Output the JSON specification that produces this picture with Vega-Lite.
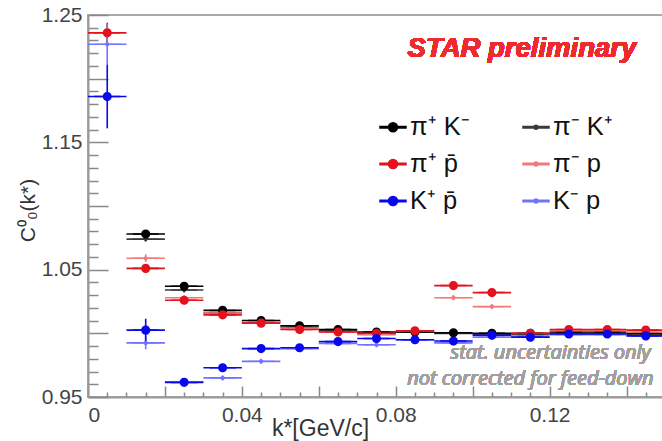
{
  "$schema": "https://vega.github.io/schema/vega-lite/v6.json",
  "width": 577,
  "height": 382,
  "autosize": {"type": "none"},
  "padding": {"left": 88, "top": 15, "right": 0, "bottom": 44},
  "background": "white",
  "config": {
    "view": {"stroke": "#aaaaaa", "strokeWidth": 2},
    "axis": {
      "grid": false,
      "domainColor": "#999999",
      "domainWidth": 2,
      "tickColor": "#888888",
      "tickWidth": 1.5,
      "labelColor": "#444444",
      "labelFont": "Liberation Sans",
      "labelFontSize": 21,
      "titleFont": "Liberation Sans",
      "titleFontWeight": "normal",
      "titleColor": "#333333",
      "titleFontSize": 23
    }
  },
  "data": {
    "values": [
      {"s": "π⁻ K⁺", "k": 0.015, "kLo": 0.01, "kHi": 0.02, "c": 1.074, "cLo": 1.072, "cHi": 1.076},
      {"s": "π⁻ K⁺", "k": 0.025, "kLo": 0.02, "kHi": 0.03, "c": 1.034, "cLo": 1.032, "cHi": 1.036},
      {"s": "π⁻ K⁺", "k": 0.035, "kLo": 0.03, "kHi": 0.04, "c": 1.016, "cLo": 1.014, "cHi": 1.018},
      {"s": "π⁻ K⁺", "k": 0.045, "kLo": 0.04, "kHi": 0.05, "c": 1.009, "cLo": 1.007, "cHi": 1.011},
      {"s": "π⁻ K⁺", "k": 0.055, "kLo": 0.05, "kHi": 0.06, "c": 1.005, "cLo": 1.003, "cHi": 1.007},
      {"s": "π⁻ K⁺", "k": 0.065, "kLo": 0.06, "kHi": 0.07, "c": 1.002, "cLo": 1.000, "cHi": 1.004},
      {"s": "π⁻ K⁺", "k": 0.075, "kLo": 0.07, "kHi": 0.08, "c": 1.000, "cLo": 0.998, "cHi": 1.002},
      {"s": "π⁻ K⁺", "k": 0.085, "kLo": 0.08, "kHi": 0.09, "c": 1.001, "cLo": 0.999, "cHi": 1.003},
      {"s": "π⁻ K⁺", "k": 0.095, "kLo": 0.09, "kHi": 0.10, "c": 1.000, "cLo": 0.998, "cHi": 1.002},
      {"s": "π⁻ K⁺", "k": 0.105, "kLo": 0.10, "kHi": 0.11, "c": 0.999, "cLo": 0.997, "cHi": 1.001},
      {"s": "π⁻ K⁺", "k": 0.115, "kLo": 0.11, "kHi": 0.12, "c": 0.999, "cLo": 0.997, "cHi": 1.001},
      {"s": "π⁻ K⁺", "k": 0.125, "kLo": 0.12, "kHi": 0.13, "c": 1.000, "cLo": 0.998, "cHi": 1.002},
      {"s": "π⁻ K⁺", "k": 0.135, "kLo": 0.13, "kHi": 0.14, "c": 1.000, "cLo": 0.998, "cHi": 1.002},
      {"s": "π⁻ K⁺", "k": 0.145, "kLo": 0.14, "kHi": 0.15, "c": 0.999, "cLo": 0.997, "cHi": 1.001},

      {"s": "π⁺ K⁻", "k": 0.015, "kLo": 0.01, "kHi": 0.02, "c": 1.078, "cLo": 1.075, "cHi": 1.081},
      {"s": "π⁺ K⁻", "k": 0.025, "kLo": 0.02, "kHi": 0.03, "c": 1.037, "cLo": 1.035, "cHi": 1.039},
      {"s": "π⁺ K⁻", "k": 0.035, "kLo": 0.03, "kHi": 0.04, "c": 1.018, "cLo": 1.016, "cHi": 1.020},
      {"s": "π⁺ K⁻", "k": 0.045, "kLo": 0.04, "kHi": 0.05, "c": 1.010, "cLo": 1.008, "cHi": 1.012},
      {"s": "π⁺ K⁻", "k": 0.055, "kLo": 0.05, "kHi": 0.06, "c": 1.006, "cLo": 1.004, "cHi": 1.008},
      {"s": "π⁺ K⁻", "k": 0.065, "kLo": 0.06, "kHi": 0.07, "c": 1.003, "cLo": 1.001, "cHi": 1.005},
      {"s": "π⁺ K⁻", "k": 0.075, "kLo": 0.07, "kHi": 0.08, "c": 1.001, "cLo": 0.999, "cHi": 1.003},
      {"s": "π⁺ K⁻", "k": 0.085, "kLo": 0.08, "kHi": 0.09, "c": 1.001, "cLo": 0.999, "cHi": 1.003},
      {"s": "π⁺ K⁻", "k": 0.095, "kLo": 0.09, "kHi": 0.10, "c": 1.0004, "cLo": 0.9984, "cHi": 1.0024},
      {"s": "π⁺ K⁻", "k": 0.105, "kLo": 0.10, "kHi": 0.11, "c": 1.000, "cLo": 0.998, "cHi": 1.002},
      {"s": "π⁺ K⁻", "k": 0.115, "kLo": 0.11, "kHi": 0.12, "c": 1.000, "cLo": 0.998, "cHi": 1.002},
      {"s": "π⁺ K⁻", "k": 0.125, "kLo": 0.12, "kHi": 0.13, "c": 1.001, "cLo": 0.999, "cHi": 1.003},
      {"s": "π⁺ K⁻", "k": 0.135, "kLo": 0.13, "kHi": 0.14, "c": 1.001, "cLo": 0.999, "cHi": 1.003},
      {"s": "π⁺ K⁻", "k": 0.145, "kLo": 0.14, "kHi": 0.15, "c": 1.000, "cLo": 0.998, "cHi": 1.002},

      {"s": "π⁻ p", "k": 0.015, "kLo": 0.01, "kHi": 0.02, "c": 1.059, "cLo": 1.056, "cHi": 1.062},
      {"s": "π⁻ p", "k": 0.025, "kLo": 0.02, "kHi": 0.03, "c": 1.028, "cLo": 1.026, "cHi": 1.030},
      {"s": "π⁻ p", "k": 0.035, "kLo": 0.03, "kHi": 0.04, "c": 1.016, "cLo": 1.014, "cHi": 1.018},
      {"s": "π⁻ p", "k": 0.045, "kLo": 0.04, "kHi": 0.05, "c": 1.009, "cLo": 1.007, "cHi": 1.011},
      {"s": "π⁻ p", "k": 0.055, "kLo": 0.05, "kHi": 0.06, "c": 1.004, "cLo": 1.002, "cHi": 1.006},
      {"s": "π⁻ p", "k": 0.065, "kLo": 0.06, "kHi": 0.07, "c": 1.001, "cLo": 0.999, "cHi": 1.003},
      {"s": "π⁻ p", "k": 0.075, "kLo": 0.07, "kHi": 0.08, "c": 0.999, "cLo": 0.997, "cHi": 1.001},
      {"s": "π⁻ p", "k": 0.085, "kLo": 0.08, "kHi": 0.09, "c": 1.002, "cLo": 1.000, "cHi": 1.004},
      {"s": "π⁻ p", "k": 0.095, "kLo": 0.09, "kHi": 0.10, "c": 1.028, "cLo": 1.026, "cHi": 1.030},
      {"s": "π⁻ p", "k": 0.105, "kLo": 0.10, "kHi": 0.11, "c": 1.021, "cLo": 1.019, "cHi": 1.023},
      {"s": "π⁻ p", "k": 0.115, "kLo": 0.11, "kHi": 0.12, "c": 1.000, "cLo": 0.998, "cHi": 1.002},
      {"s": "π⁻ p", "k": 0.125, "kLo": 0.12, "kHi": 0.13, "c": 1.002, "cLo": 1.000, "cHi": 1.004},
      {"s": "π⁻ p", "k": 0.135, "kLo": 0.13, "kHi": 0.14, "c": 1.002, "cLo": 1.000, "cHi": 1.004},
      {"s": "π⁻ p", "k": 0.145, "kLo": 0.14, "kHi": 0.15, "c": 1.001, "cLo": 0.999, "cHi": 1.003},

      {"s": "π⁺ p̄", "k": 0.005, "kLo": 0.00, "kHi": 0.01, "c": 1.236, "cLo": 1.228, "cHi": 1.244},
      {"s": "π⁺ p̄", "k": 0.015, "kLo": 0.01, "kHi": 0.02, "c": 1.051, "cLo": 1.048, "cHi": 1.054},
      {"s": "π⁺ p̄", "k": 0.025, "kLo": 0.02, "kHi": 0.03, "c": 1.026, "cLo": 1.024, "cHi": 1.028},
      {"s": "π⁺ p̄", "k": 0.035, "kLo": 0.03, "kHi": 0.04, "c": 1.0145, "cLo": 1.0125, "cHi": 1.0165},
      {"s": "π⁺ p̄", "k": 0.045, "kLo": 0.04, "kHi": 0.05, "c": 1.008, "cLo": 1.006, "cHi": 1.010},
      {"s": "π⁺ p̄", "k": 0.055, "kLo": 0.05, "kHi": 0.06, "c": 1.003, "cLo": 1.001, "cHi": 1.005},
      {"s": "π⁺ p̄", "k": 0.065, "kLo": 0.06, "kHi": 0.07, "c": 1.001, "cLo": 0.999, "cHi": 1.003},
      {"s": "π⁺ p̄", "k": 0.075, "kLo": 0.07, "kHi": 0.08, "c": 1.000, "cLo": 0.998, "cHi": 1.002},
      {"s": "π⁺ p̄", "k": 0.085, "kLo": 0.08, "kHi": 0.09, "c": 1.002, "cLo": 1.000, "cHi": 1.004},
      {"s": "π⁺ p̄", "k": 0.095, "kLo": 0.09, "kHi": 0.10, "c": 1.0375, "cLo": 1.0355, "cHi": 1.0395},
      {"s": "π⁺ p̄", "k": 0.105, "kLo": 0.10, "kHi": 0.11, "c": 1.032, "cLo": 1.030, "cHi": 1.034},
      {"s": "π⁺ p̄", "k": 0.115, "kLo": 0.11, "kHi": 0.12, "c": 1.000, "cLo": 0.998, "cHi": 1.002},
      {"s": "π⁺ p̄", "k": 0.125, "kLo": 0.12, "kHi": 0.13, "c": 1.003, "cLo": 1.001, "cHi": 1.005},
      {"s": "π⁺ p̄", "k": 0.135, "kLo": 0.13, "kHi": 0.14, "c": 1.003, "cLo": 1.001, "cHi": 1.005},
      {"s": "π⁺ p̄", "k": 0.145, "kLo": 0.14, "kHi": 0.15, "c": 1.0025, "cLo": 1.0005, "cHi": 1.0045},

      {"s": "K⁻ p", "k": 0.005, "kLo": 0.00, "kHi": 0.01, "c": 1.227, "cLo": 1.211, "cHi": 1.243},
      {"s": "K⁻ p", "k": 0.015, "kLo": 0.01, "kHi": 0.02, "c": 0.9925, "cLo": 0.9875, "cHi": 0.9975},
      {"s": "K⁻ p", "k": 0.025, "kLo": 0.02, "kHi": 0.03, "c": 0.962, "cLo": 0.959, "cHi": 0.965},
      {"s": "K⁻ p", "k": 0.035, "kLo": 0.03, "kHi": 0.04, "c": 0.965, "cLo": 0.963, "cHi": 0.967},
      {"s": "K⁻ p", "k": 0.045, "kLo": 0.04, "kHi": 0.05, "c": 0.978, "cLo": 0.976, "cHi": 0.980},
      {"s": "K⁻ p", "k": 0.055, "kLo": 0.05, "kHi": 0.06, "c": 0.988, "cLo": 0.986, "cHi": 0.990},
      {"s": "K⁻ p", "k": 0.065, "kLo": 0.06, "kHi": 0.07, "c": 0.992, "cLo": 0.990, "cHi": 0.994},
      {"s": "K⁻ p", "k": 0.075, "kLo": 0.07, "kHi": 0.08, "c": 0.991, "cLo": 0.989, "cHi": 0.993},
      {"s": "K⁻ p", "k": 0.085, "kLo": 0.08, "kHi": 0.09, "c": 0.995, "cLo": 0.993, "cHi": 0.997},
      {"s": "K⁻ p", "k": 0.095, "kLo": 0.09, "kHi": 0.10, "c": 0.9925, "cLo": 0.9905, "cHi": 0.9945},
      {"s": "K⁻ p", "k": 0.105, "kLo": 0.10, "kHi": 0.11, "c": 0.997, "cLo": 0.995, "cHi": 0.999},
      {"s": "K⁻ p", "k": 0.115, "kLo": 0.11, "kHi": 0.12, "c": 0.997, "cLo": 0.995, "cHi": 0.999},
      {"s": "K⁻ p", "k": 0.125, "kLo": 0.12, "kHi": 0.13, "c": 0.999, "cLo": 0.997, "cHi": 1.001},
      {"s": "K⁻ p", "k": 0.135, "kLo": 0.13, "kHi": 0.14, "c": 0.999, "cLo": 0.997, "cHi": 1.001},
      {"s": "K⁻ p", "k": 0.145, "kLo": 0.14, "kHi": 0.15, "c": 0.998, "cLo": 0.996, "cHi": 1.000},

      {"s": "K⁺ p̄", "k": 0.005, "kLo": 0.00, "kHi": 0.01, "c": 1.186, "cLo": 1.161, "cHi": 1.211},
      {"s": "K⁺ p̄", "k": 0.015, "kLo": 0.01, "kHi": 0.02, "c": 1.0025, "cLo": 0.9935, "cHi": 1.0115},
      {"s": "K⁺ p̄", "k": 0.025, "kLo": 0.02, "kHi": 0.03, "c": 0.9615, "cLo": 0.9585, "cHi": 0.9645},
      {"s": "K⁺ p̄", "k": 0.035, "kLo": 0.03, "kHi": 0.04, "c": 0.973, "cLo": 0.971, "cHi": 0.975},
      {"s": "K⁺ p̄", "k": 0.045, "kLo": 0.04, "kHi": 0.05, "c": 0.988, "cLo": 0.986, "cHi": 0.990},
      {"s": "K⁺ p̄", "k": 0.055, "kLo": 0.05, "kHi": 0.06, "c": 0.9887, "cLo": 0.9867, "cHi": 0.9907},
      {"s": "K⁺ p̄", "k": 0.065, "kLo": 0.06, "kHi": 0.07, "c": 0.9935, "cLo": 0.9915, "cHi": 0.9955},
      {"s": "K⁺ p̄", "k": 0.075, "kLo": 0.07, "kHi": 0.08, "c": 0.996, "cLo": 0.994, "cHi": 0.998},
      {"s": "K⁺ p̄", "k": 0.085, "kLo": 0.08, "kHi": 0.09, "c": 0.995, "cLo": 0.993, "cHi": 0.997},
      {"s": "K⁺ p̄", "k": 0.095, "kLo": 0.09, "kHi": 0.10, "c": 0.994, "cLo": 0.992, "cHi": 0.996},
      {"s": "K⁺ p̄", "k": 0.105, "kLo": 0.10, "kHi": 0.11, "c": 0.9985, "cLo": 0.9965, "cHi": 1.0005},
      {"s": "K⁺ p̄", "k": 0.115, "kLo": 0.11, "kHi": 0.12, "c": 0.997, "cLo": 0.995, "cHi": 0.999},
      {"s": "K⁺ p̄", "k": 0.125, "kLo": 0.12, "kHi": 0.13, "c": 0.9995, "cLo": 0.9975, "cHi": 1.0015},
      {"s": "K⁺ p̄", "k": 0.135, "kLo": 0.13, "kHi": 0.14, "c": 0.9995, "cLo": 0.9975, "cHi": 1.0015},
      {"s": "K⁺ p̄", "k": 0.145, "kLo": 0.14, "kHi": 0.15, "c": 0.998, "cLo": 0.996, "cHi": 1.000}
    ]
  },
  "resolve": {"axis": {"x": "independent", "y": "independent"}},
  "layer": [
    {
      "mark": {"type": "rule", "strokeWidth": 1.6},
      "encoding": {
        "x": {
          "field": "kLo", "type": "quantitative",
          "scale": {"domain": [0, 0.15], "nice": false, "zero": false},
          "axis": {
            "orient": "bottom",
            "values": [0.005, 0.01, 0.015, 0.025, 0.03, 0.035, 0.045, 0.05, 0.055, 0.065, 0.07, 0.075, 0.085, 0.09, 0.095, 0.105, 0.11, 0.115, 0.125, 0.13, 0.135, 0.145],
            "tickSize": -5, "labels": false, "domain": false, "title": null
          }
        },
        "x2": {"field": "kHi"},
        "y": {
          "field": "c", "type": "quantitative",
          "scale": {"domain": [0.95, 1.25], "nice": false, "zero": false},
          "axis": {
            "orient": "left",
            "values": [0.96, 0.97, 0.98, 0.99, 1.01, 1.02, 1.03, 1.04, 1.06, 1.07, 1.08, 1.09, 1.11, 1.12, 1.13, 1.14, 1.16, 1.17, 1.18, 1.19, 1.21, 1.22, 1.23, 1.24],
            "tickSize": -10, "labels": false, "domain": false, "title": null
          }
        },
        "color": {"field": "s", "type": "nominal"}
      }
    },
    {
      "mark": {"type": "rule", "strokeWidth": 1.6},
      "encoding": {
        "x": {"field": "k", "type": "quantitative", "axis": null},
        "y": {"field": "cLo", "type": "quantitative", "axis": null},
        "y2": {"field": "cHi"},
        "color": {"field": "s", "type": "nominal"}
      }
    },
    {
      "mark": {"type": "point", "filled": true, "size": 676, "opacity": 1, "strokeWidth": 0},
      "encoding": {
        "x": {
          "field": "k", "type": "quantitative",
          "axis": {
            "orient": "bottom",
            "values": [0, 0.02, 0.04, 0.06, 0.08, 0.1, 0.12, 0.14],
            "tickSize": -11,
            "labelPadding": 18,
            "labelExpr": "round(datum.value*100) % 4 == 0 ? (datum.value == 0 ? '0' : format(datum.value, '.2f')) : ''",
            "title": "k*[GeV/c]",
            "titleX": 232, "titleY": 20
          }
        },
        "y": {
          "field": "c", "type": "quantitative",
          "axis": {
            "orient": "left",
            "values": [0.95, 1.0, 1.05, 1.1, 1.15, 1.2, 1.25],
            "tickSize": -20,
            "labelPadding": 26,
            "labelExpr": "round(datum.value*100) % 10 == 5 ? format(datum.value, '.2f') : ''",
            "title": "C⁰₀(k*)",
            "titleX": -50, "titleY": 195, "titleFontSize": 21
          }
        },
        "color": {
          "field": "s", "type": "nominal",
          "scale": {
            "domain": ["π⁺ K⁻", "π⁺ p̄", "K⁺ p̄", "π⁻ K⁺", "π⁻ p", "K⁻ p"],
            "range": ["#000000", "#e3121c", "#0808ee", "#3a3a3a", "#f27a7a", "#7272ff"]
          },
          "legend": {
            "orient": "none",
            "legendX": 291,
            "legendY": 98,
            "columns": 2,
            "columnPadding": 50,
            "rowPadding": 9,
            "title": null,
            "padding": 0,
            "labelFont": "Liberation Sans",
            "labelFontSize": 25.5,
            "labelColor": "#111111",
            "labelOffset": 3,
            "symbolSize": 676
          }
        },
        "shape": {
          "field": "s", "type": "nominal",
          "scale": {
            "domain": ["π⁺ K⁻", "π⁺ p̄", "K⁺ p̄", "π⁻ K⁺", "π⁻ p", "K⁻ p"],
            "range": [
              "M-1,-0.06H-0.33V0.06H-1Z M0.33,-0.06H1V0.06H0.33Z M-0.35,0A0.35,0.35,0,1,1,0.35,0A0.35,0.35,0,1,1,-0.35,0Z",
              "M-1,-0.06H-0.33V0.06H-1Z M0.33,-0.06H1V0.06H0.33Z M-0.35,0A0.35,0.35,0,1,1,0.35,0A0.35,0.35,0,1,1,-0.35,0Z",
              "M-1,-0.06H-0.33V0.06H-1Z M0.33,-0.06H1V0.06H0.33Z M-0.35,0A0.35,0.35,0,1,1,0.35,0A0.35,0.35,0,1,1,-0.35,0Z",
              "M-1,-0.05H-0.15V0.05H-1Z M0.15,-0.05H1V0.05H0.15Z M-0.16,0A0.16,0.16,0,1,1,0.16,0A0.16,0.16,0,1,1,-0.16,0Z",
              "M-1,-0.05H-0.15V0.05H-1Z M0.15,-0.05H1V0.05H0.15Z M-0.16,0A0.16,0.16,0,1,1,0.16,0A0.16,0.16,0,1,1,-0.16,0Z",
              "M-1,-0.05H-0.15V0.05H-1Z M0.15,-0.05H1V0.05H0.15Z M-0.16,0A0.16,0.16,0,1,1,0.16,0A0.16,0.16,0,1,1,-0.16,0Z"
            ]
          }
        }
      }
    },
    {
      "mark": {"type": "text", "text": "STAR preliminary", "font": "Liberation Sans", "fontSize": 27.5, "fontWeight": "bold", "fontStyle": "italic", "color": "#ee2a2f", "align": "center", "baseline": "middle"},
      "encoding": {
        "x": {"datum": 0.1128, "type": "quantitative", "axis": null},
        "y": {"datum": 1.223, "type": "quantitative", "axis": null}
      }
    },
    {
      "mark": {"type": "text", "text": "stat. uncertainties only", "font": "Open Sans", "fontSize": 20, "fontStyle": "italic", "color": "#a0a0a0", "align": "right", "baseline": "middle"},
      "encoding": {
        "x": {"datum": 0.1463, "type": "quantitative", "axis": null},
        "y": {"datum": 0.9845, "type": "quantitative", "axis": null}
      }
    },
    {
      "mark": {"type": "text", "text": "not corrected for feed-down", "font": "Open Sans", "fontSize": 20, "fontStyle": "italic", "color": "#a0a0a0", "align": "right", "baseline": "middle"},
      "encoding": {
        "x": {"datum": 0.147, "type": "quantitative", "axis": null},
        "y": {"datum": 0.9641, "type": "quantitative", "axis": null}
      }
    }
  ]
}
